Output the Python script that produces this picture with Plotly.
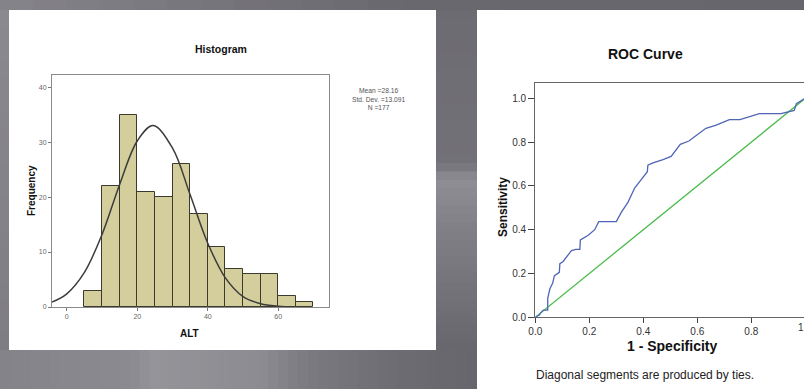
import plotly.graph_objects as go

# ---------------- data ----------------
# Histogram of ALT (bin width 5)
bin_starts = [5, 10, 15, 20, 25, 30, 35, 40, 45, 50, 55, 60, 65]
bin_counts = [3, 22, 35, 21, 20, 26, 17, 11, 7, 6, 6, 2, 1]
bin_width = 5

# fitted normal curve
curve_x = [-4.2, 0, 5, 10, 15, 20, 24.5, 30, 35, 40, 45, 50, 55, 60, 62]
curve_y = [0.9, 2.4, 6.3, 13.2, 22.3, 30.2, 33.0, 28.9, 20.4, 11.6, 5.3, 1.9, 0.6, 0.13, 0.05]

stats_lines = ["Mean =28.16", "Std. Dev. =13.091", "N =177"]

# ROC curve
roc_fpr = [0.0, 0.015, 0.02, 0.03, 0.044, 0.046, 0.046, 0.054, 0.064, 0.071, 0.089, 0.091,
           0.103, 0.134, 0.15, 0.165, 0.167, 0.196, 0.22, 0.235, 0.30, 0.319, 0.343, 0.368,
           0.393, 0.415, 0.417, 0.436, 0.473, 0.503, 0.537, 0.569, 0.596, 0.632, 0.67,
           0.719, 0.758, 0.83, 0.91, 0.959, 0.967, 0.99, 1.0]
roc_tpr = [0.0, 0.01, 0.02, 0.033, 0.033, 0.033, 0.087, 0.13, 0.155, 0.19, 0.205, 0.245,
           0.255, 0.305, 0.31, 0.31, 0.353, 0.375, 0.40, 0.437, 0.437, 0.48, 0.525, 0.59,
           0.63, 0.665, 0.695, 0.705, 0.72, 0.735, 0.79, 0.805, 0.83, 0.863, 0.878,
           0.903, 0.903, 0.93, 0.93, 0.945, 0.975, 0.995, 1.0]
ref_x = [0, 1]
ref_y = [0, 1]

roc_ticks = [0.0, 0.2, 0.4, 0.6, 0.8, 1.0]
roc_ticktext = ["0.0", "0.2", "0.4", "0.6", "0.8", "1.0"]

# ---------------- layout helpers ----------------
W, H = 804, 389


def px(x):
    return x / W


def py(y):
    return 1 - y / H


def hex2rgb(h):
    h = h.lstrip('#')
    return tuple(int(h[i:i + 2], 16) for i in (0, 2, 4))


def interp(stops, t):
    for (t0, c0), (t1, c1) in zip(stops[:-1], stops[1:]):
        if t0 <= t <= t1:
            f = 0 if t1 == t0 else (t - t0) / (t1 - t0)
            a, b = hex2rgb(c0), hex2rgb(c1)
            return 'rgb(%d,%d,%d)' % tuple(round(a[i] + (b[i] - a[i]) * f) for i in range(3))
    return stops[-1][1]


def slices(x0, x1, y0, y1, stops, horizontal, n):
    out = []
    for i in range(n):
        t = (i + 0.5) / n
        col = interp(stops, t)
        if horizontal:
            a = x0 + (x1 - x0) * i / n
            b = x0 + (x1 - x0) * (i + 1) / n + 0.6
            out.append(dict(type='rect', xref='paper', yref='paper', layer='below',
                            x0=px(a), x1=px(b), y0=py(y1), y1=py(y0),
                            fillcolor=col, line=dict(width=0)))
        else:
            a = y0 + (y1 - y0) * i / n
            b = y0 + (y1 - y0) * (i + 1) / n + 0.6
            out.append(dict(type='rect', xref='paper', yref='paper', layer='below',
                            x0=px(x0), x1=px(x1), y0=py(b), y1=py(a),
                            fillcolor=col, line=dict(width=0)))
    return out


shapes = []
# top band
shapes += slices(0, 804, 0, 10, [(0, '#85848a'), (0.5, '#69686e'), (1, '#67666c')], True, 24)
# left strip
shapes += slices(0, 9, 10, 350, [(0, '#8a898f'), (1, '#7e7d83')], False, 20)
# strip between panels
shapes += slices(436, 477, 10, 350, [(0, '#6c6b71'), (0.45, '#727177'), (0.5, '#8f8e94'),
                                     (0.65, '#807f85'), (1, '#67666c')], False, 40)
# bottom band
shapes += slices(0, 477, 350, 389, [(0, '#848389'), (0.27, '#8b8a90'), (0.32, '#959499'),
                                    (0.55, '#8c8b91'), (0.65, '#7a797f'), (0.85, '#6c6b71'),
                                    (1, '#67666c')], True, 48)
# white panels
shapes.append(dict(type='rect', xref='paper', yref='paper', layer='below',
                   x0=px(9), x1=px(436), y0=py(350), y1=py(10),
                   fillcolor='white', line=dict(width=0)))
shapes.append(dict(type='rect', xref='paper', yref='paper', layer='below',
                   x0=px(477), x1=1.0, y0=0, y1=py(10),
                   fillcolor='white', line=dict(width=0)))

FONT = "Liberation Sans, Arial, sans-serif"

fig = go.Figure()

# histogram bars
fig.add_trace(go.Bar(x=bin_starts, y=bin_counts, width=[bin_width] * len(bin_starts), offset=0,
                     marker=dict(color='#d3ce9c', line=dict(color='#3b3a2c', width=1)),
                     xaxis='x', yaxis='y', showlegend=False, hoverinfo='skip'))
fig.add_trace(go.Scatter(x=curve_x, y=curve_y, mode='lines',
                         line=dict(color='#3c3c3c', width=1.5, shape='spline', smoothing=1.0),
                         xaxis='x', yaxis='y', showlegend=False, hoverinfo='skip'))

# ROC
fig.add_trace(go.Scatter(x=ref_x, y=ref_y, mode='lines', line=dict(color='#4cbb4c', width=1.3),
                         xaxis='x2', yaxis='y2', showlegend=False, hoverinfo='skip'))
fig.add_trace(go.Scatter(x=roc_fpr, y=roc_tpr, mode='lines', line=dict(color='#4f65b6', width=1.3),
                         xaxis='x2', yaxis='y2', showlegend=False, hoverinfo='skip'))

hist_axis_common = dict(showline=True, linecolor='#8a8a8a', linewidth=1, mirror=True,
                        ticks='outside', ticklen=3, tickcolor='#777', showgrid=False,
                        zeroline=False, tickfont=dict(family=FONT, size=7, color='#666'))
roc_axis_common = dict(showline=True, linecolor='#666', linewidth=1.2, mirror=True,
                       ticks='outside', tickcolor='#444', showgrid=False,
                       zeroline=False, tickfont=dict(family=FONT, size=10, color='#333'))

annotations = [
    dict(text='<b>Histogram</b>', x=px(221), y=py(49), font=dict(family=FONT, size=10.5, color='#111')),
    dict(text='<b>Frequency</b>', x=px(31), y=py(191), textangle=-90,
         font=dict(family=FONT, size=10, color='#111')),
    dict(text='<b>ALT</b>', x=px(189), y=py(333), font=dict(family=FONT, size=10, color='#111')),
    dict(text='<br>'.join(stats_lines), x=px(379), y=py(98.5),
         font=dict(family=FONT, size=6.7, color='#555'), align='center'),
    dict(text='<b>ROC Curve</b>', x=px(645), y=py(54), font=dict(family=FONT, size=14, color='#111')),
    dict(text='<b>Sensitivity</b>', x=px(503), y=py(207), textangle=-90,
         font=dict(family=FONT, size=12, color='#111')),
    dict(text='<b>1 - Specificity</b>', x=px(672), y=py(346), font=dict(family=FONT, size=14, color='#111')),
    dict(text='Diagonal segments are produced by ties.', x=px(645), y=py(375),
         font=dict(family=FONT, size=12, color='#222')),
    dict(text=roc_ticktext[-1][0], x=px(800.5), y=py(327), font=dict(family=FONT, size=10, color='#333')),
]
for a in annotations:
    a.update(xref='paper', yref='paper', showarrow=False, xanchor='center', yanchor='middle')

fig.update_layout(
    width=W, height=H, margin=dict(l=0, r=0, t=0, b=0, pad=0, autoexpand=False),
    paper_bgcolor='#6b6a70',
    shapes=shapes,
    annotations=annotations,
    bargap=0,
    hovermode=False,
    xaxis=dict(domain=[px(52), px(329)], range=[-4.2, 74.4], anchor='y',
               tickvals=[0, 20, 40, 60], **hist_axis_common),
    yaxis=dict(domain=[py(307), py(75)], range=[0, 42.2], anchor='x',
               tickvals=[0, 10, 20, 30, 40], **hist_axis_common),
    xaxis2=dict(domain=[px(535.3), 1.0], range=[0, (804 - 535.3) / 270], anchor='y2',
                tickvals=roc_ticks[:-1], ticktext=roc_ticktext[:-1], ticklen=5, **roc_axis_common),
    yaxis2=dict(domain=[py(317.3), py(83.3)], range=[0, (317.3 - 83.3) / 219], anchor='x2',
                tickvals=roc_ticks, ticktext=roc_ticktext, ticklen=6, **roc_axis_common),
    plot_bgcolor='#eeeeee',
)

fig.write_html("out.html", config={'displayModeBar': False},
               post_script="document.body.style.margin='0px';document.body.style.overflow='hidden';")
